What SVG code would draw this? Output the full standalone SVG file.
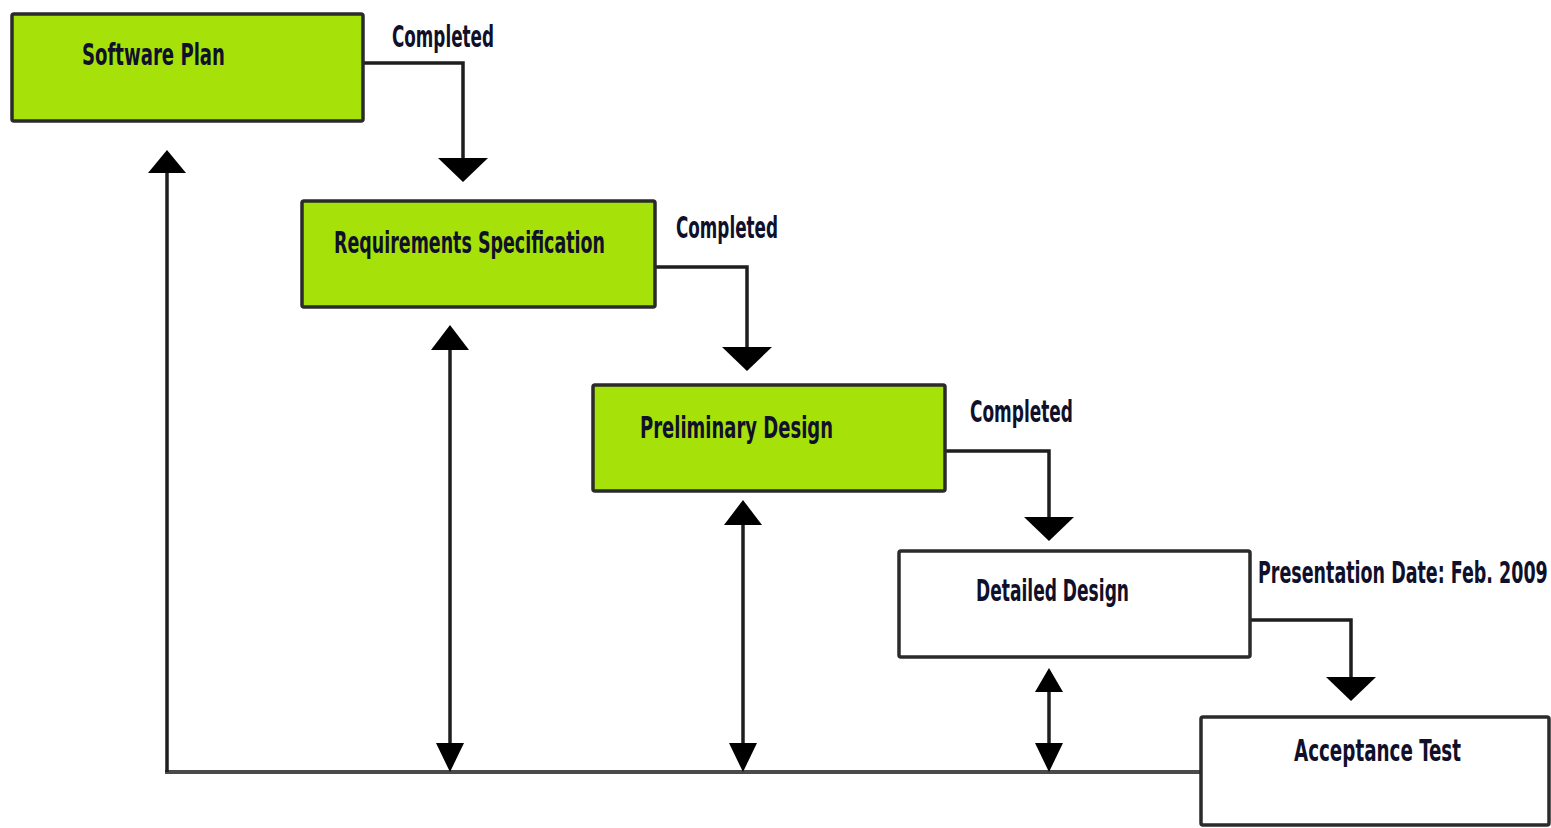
<svg xmlns="http://www.w3.org/2000/svg" width="1551" height="828" viewBox="0 0 1551 828">
<style>
.box{stroke:#2b2b2b;stroke-width:3.5}
.green{fill:#a6e20a}
.white{fill:#ffffff}
.lbl{font-family:"DejaVu Sans Condensed","DejaVu Sans","Liberation Sans",sans-serif;font-weight:bold;font-size:30px;fill:#10102a}
.ln{fill:none;stroke:#1e1e1e;stroke-width:3.5;stroke-linejoin:miter}
.base{fill:none;stroke:#4a4a4a;stroke-width:4}
.ah{fill:#000}
</style>
<rect width="1551" height="828" fill="#ffffff"/>
<g id="connectors">
<path class="base" d="M165,772 H1202"/>
<path class="ln" d="M363,63 H463 V165"/>
<polygon class="ah" points="438,158 488,158 463,182"/>
<path class="ln" d="M655,267 H747 V354"/>
<polygon class="ah" points="722,347 772,347 747,371"/>
<path class="ln" d="M945,451 H1049 V524"/>
<polygon class="ah" points="1024,517 1074,517 1049,541"/>
<path class="ln" d="M1250,620 H1351 V684"/>
<polygon class="ah" points="1326,677 1376,677 1351,701"/>
<path class="ln" d="M167,772 V168"/>
<polygon class="ah" points="148,173 186,173 167,150"/>
<path class="ln" d="M450,345 V750"/>
<polygon class="ah" points="431,350 469,350 450,325"/>
<polygon class="ah" points="436,743 464,743 450,772"/>
<path class="ln" d="M743,520 V750"/>
<polygon class="ah" points="724,525 762,525 743,500"/>
<polygon class="ah" points="729,743 757,743 743,772"/>
<path class="ln" d="M1049,685 V750"/>
<polygon class="ah" points="1035,692 1063,692 1049,668"/>
<polygon class="ah" points="1035,743 1063,743 1049,772"/>
</g>
<g id="label-completed-1"><text class="lbl" transform="translate(392,47) scale(0.62,1)" textLength="164.5" lengthAdjust="spacingAndGlyphs">Completed</text></g>
<g id="label-completed-2"><text class="lbl" transform="translate(676,238) scale(0.62,1)" textLength="164.5" lengthAdjust="spacingAndGlyphs">Completed</text></g>
<g id="label-completed-3"><text class="lbl" transform="translate(970,422) scale(0.62,1)" textLength="166" lengthAdjust="spacingAndGlyphs">Completed</text></g>
<g id="label-presentation"><text class="lbl" transform="translate(1258,583) scale(0.6,1)" textLength="483" lengthAdjust="spacingAndGlyphs">Presentation Date: Feb. 2009</text></g>
<g id="node-software-plan">
<rect class="box green" x="12" y="14" width="351" height="107" rx="2"/>
<text class="lbl" transform="translate(82,65) scale(0.62,1)" textLength="230.6" lengthAdjust="spacingAndGlyphs">Software Plan</text>
</g>
<g id="node-requirements">
<rect class="box green" x="302" y="201" width="353" height="106" rx="2"/>
<text class="lbl" transform="translate(334,253) scale(0.62,1)" textLength="437" lengthAdjust="spacingAndGlyphs">Requirements Specification</text>
</g>
<g id="node-preliminary">
<rect class="box green" x="593" y="385" width="352" height="106" rx="2"/>
<text class="lbl" transform="translate(640,438) scale(0.62,1)" textLength="311.3" lengthAdjust="spacingAndGlyphs">Preliminary Design</text>
</g>
<g id="node-detailed">
<rect class="box white" x="899" y="551" width="351" height="106" rx="2"/>
<text class="lbl" transform="translate(976,601) scale(0.62,1)" textLength="246.8" lengthAdjust="spacingAndGlyphs">Detailed Design</text>
</g>
<g id="node-acceptance">
<rect class="box white" x="1201" y="717" width="348" height="108" rx="2"/>
<text class="lbl" transform="translate(1294,761) scale(0.62,1)" textLength="269.4" lengthAdjust="spacingAndGlyphs">Acceptance Test</text>
</g>
</svg>
